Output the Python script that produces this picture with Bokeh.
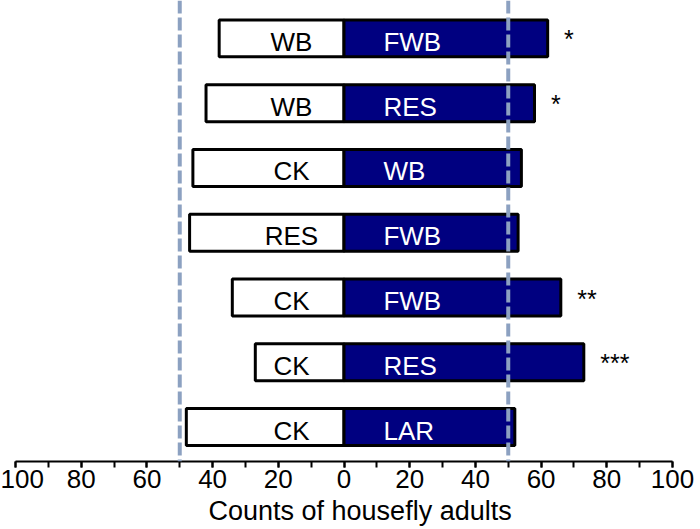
import numpy as np
from bokeh.plotting import figure
from bokeh.models import Range1d, FixedTicker, Span, Title, ColumnDataSource
from bokeh.core.properties import value
from bokeh.embed import file_html
from bokeh.resources import INLINE

# ---- data (top row first) ----
left_labels = ["WB", "WB", "CK", "RES", "CK", "CK", "CK"]
right_labels = ["FWB", "RES", "WB", "FWB", "FWB", "RES", "LAR"]
left_vals = [38, 42, 46, 47, 34, 27, 48]
right_vals = [62, 58, 54, 53, 66, 73, 52]
signif = ["*", "*", "", "", "**", "***", ""]
tick_values = [-100, -80, -60, -40, -20, 0, 20, 40, 60, 80, 100]
tick_labels = ["100", "80", "60", "40", "20", "0", "20", "40", "60", "80", "100"]
ref_lines = [-50, 50]
x_title = "Counts of housefly adults"

FONT = "Liberation Sans"
NARROW = "Liberation Sans Narrow, Arial Narrow, Liberation Sans"
n = len(left_vals)
ypos = np.arange(n, 0, -1, dtype=float)
PX = 64.92  # pixels per category unit
lab_shift = 3.5 / PX
sig_shift = 1.0 / PX

src = ColumnDataSource(dict(
    y=ypos,
    ty=ypos - lab_shift,
    sy=ypos - sig_shift,
    lneg=[-v for v in left_vals],
    rval=right_vals,
    zero=[0] * n,
    llab=left_labels,
    rlab=right_labels,
    lx=[-16] * n,
    rx=[12] * n,
    sx=[v + 5 for v in right_vals],
    sig=signif,
))

p = figure(frame_width=657, frame_height=461,
           x_range=Range1d(-100, 100), y_range=Range1d(0.4686, 7.585),
           output_backend="svg", toolbar_location=None, y_axis_location=None,
           min_border_left=15, min_border_right=28, min_border_top=0, min_border_bottom=68)
p.xgrid.visible = False
p.ygrid.visible = False
p.outline_line_color = None
p.background_fill_color = "white"
p.border_fill_color = "white"

p.hbar(y="y", left="lneg", right="zero", height=0.57, source=src,
       fill_color="white", line_color="black", line_width=3)
p.hbar(y="y", left="zero", right="rval", height=0.57, source=src,
       fill_color="#000080", line_color="black", line_width=3)

p.text(x="lx", y="ty", text="llab", source=src, text_font=value(FONT),
       text_font_size="26px", text_color="black", text_align="center",
       text_baseline="alphabetic")
p.text(x="rx", y="ty", text="rlab", source=src, text_font=value(FONT),
       text_font_size="26px", text_color="white", text_align="left",
       text_baseline="alphabetic")
p.text(x="sx", y="sy", text="sig", source=src, text_font=value(FONT),
       text_font_size="25px", text_color="black", text_align="left",
       text_baseline="alphabetic")

for xv in ref_lines:
    p.add_layout(Span(location=xv, dimension="height", line_color="#8ca1c1",
                      line_width=4, line_dash="13 4"))

ax = p.xaxis[0]
ax.ticker = FixedTicker(ticks=tick_values,
                        minor_ticks=list(range(-100, 101, 10)))
ax.major_label_overrides = {t: l for t, l in zip(tick_values, tick_labels)}
ax.major_label_text_font = NARROW
ax.major_label_text_font_size = "26px"
ax.major_label_text_color = "black"
ax.major_label_standoff = 2
ax.axis_line_color = "black"
ax.axis_line_width = 2
ax.major_tick_line_color = "black"
ax.major_tick_line_width = 2
ax.minor_tick_line_color = "black"
ax.minor_tick_line_width = 2
ax.major_tick_in = 0
ax.major_tick_out = 6
ax.minor_tick_in = 0
ax.minor_tick_out = 6

p.add_layout(Title(text=x_title, align="left", offset=193, standoff=6,
                   text_font=FONT, text_font_size="27px",
                   text_font_style="normal", text_color="black"), "below")

open("out.html", "w").write(file_html(p, INLINE))
